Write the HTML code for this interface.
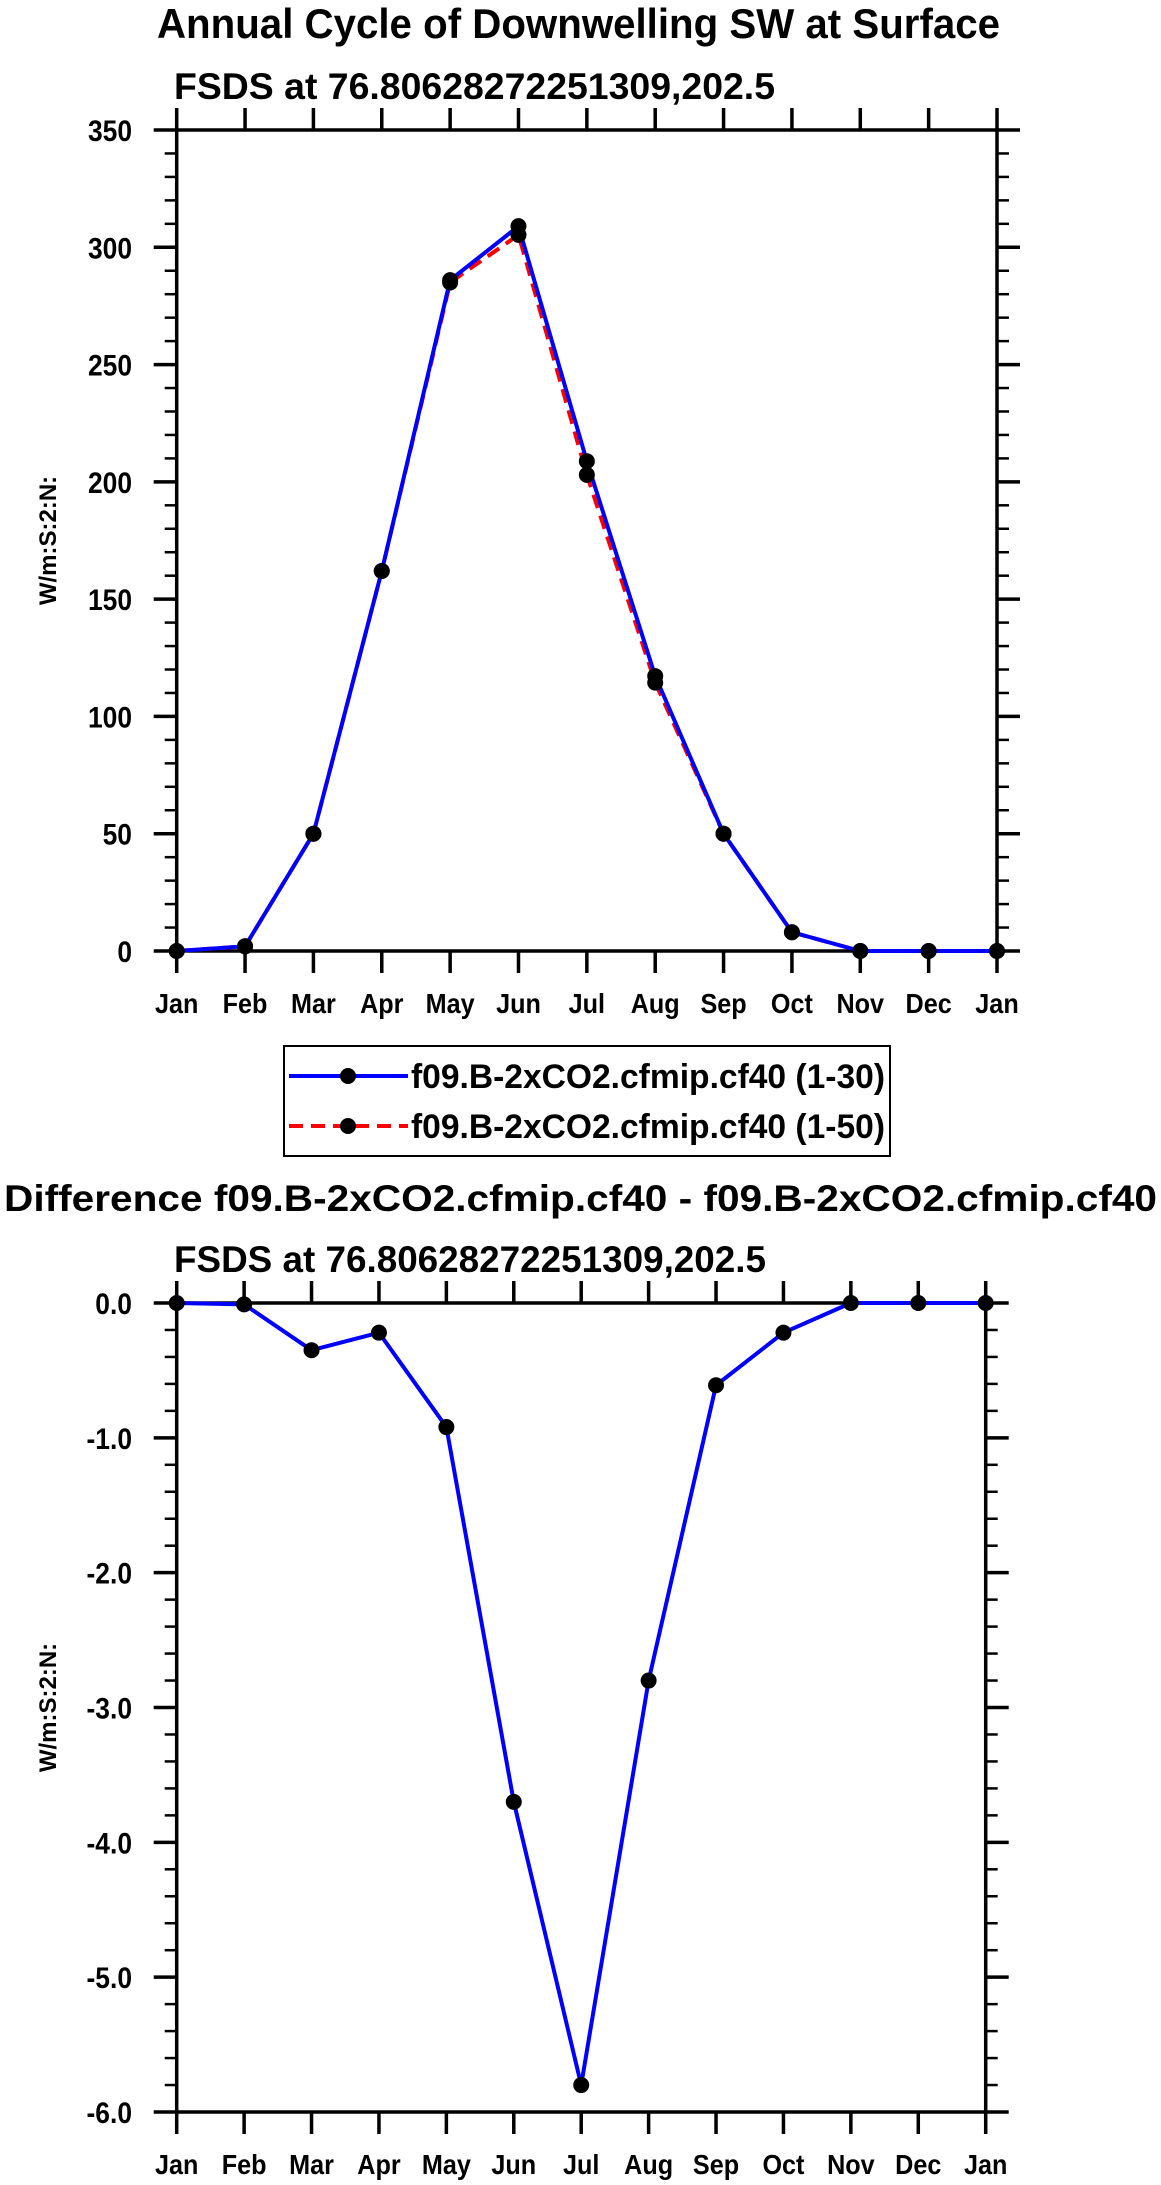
<!DOCTYPE html>
<html><head><meta charset="utf-8"><style>
html,body{margin:0;padding:0;background:#fff;}
svg{display:block;}
text{font-family:"Liberation Sans",Arial,sans-serif;font-weight:bold;fill:#000;}
</style></head><body>
<svg id="chart" width="1161" height="2185" viewBox="0 0 1161 2185" xmlns="http://www.w3.org/2000/svg">
<text x="157" y="38" font-size="42" textLength="843" lengthAdjust="spacingAndGlyphs">Annual Cycle of Downwelling SW at Surface</text>
<text x="174" y="99" font-size="37" textLength="601" lengthAdjust="spacingAndGlyphs">FSDS at 76.80628272251309,202.5</text>
<g id="top"></g>
<g>
<rect x="284" y="1046" width="606" height="110" fill="#fff" stroke="#000" stroke-width="2"/>
<line x1="289" y1="1076" x2="408" y2="1076" stroke="#0000ff" stroke-width="4"/>
<circle cx="348" cy="1076" r="8" fill="#000"/>
<text x="411" y="1088" font-size="34" textLength="474" lengthAdjust="spacingAndGlyphs">f09.B-2xCO2.cfmip.cf40 (1-30)</text>
<line x1="289" y1="1126" x2="408" y2="1126" stroke="#ff0000" stroke-width="4" stroke-dasharray="14,8"/>
<circle cx="348" cy="1126" r="8" fill="#000"/>
<text x="411" y="1138" font-size="34" textLength="474" lengthAdjust="spacingAndGlyphs">f09.B-2xCO2.cfmip.cf40 (1-50)</text>
</g>
<text x="4" y="1211" font-size="37" textLength="1153" lengthAdjust="spacingAndGlyphs">Difference f09.B-2xCO2.cfmip.cf40 - f09.B-2xCO2.cfmip.cf40</text>
<text x="174" y="1272" font-size="37" textLength="592" lengthAdjust="spacingAndGlyphs">FSDS at 76.80628272251309,202.5</text>
<g id="bot"></g>
</svg>
<script>
const months = ["Jan","Feb","Mar","Apr","May","Jun","Jul","Aug","Sep","Oct","Nov","Dec","Jan"];
const seriesA = [0, 2, 50, 162, 286, 309, 208.8, 117.2, 50, 8, 0, 0, 0];
const seriesB = [0, 2, 50, 162, 285, 305.3, 203, 114.4, 50, 8, 0, 0, 0];
const diffValues = [0, -0.01, -0.35, -0.22, -0.92, -3.7, -5.8, -2.8, -0.61, -0.22, 0, 0, 0];
const topTicks = [0, 50, 100, 150, 200, 250, 300, 350];
const topTickLabels = ["0","50","100","150","200","250","300","350"];
const botTicks = [0, -1, -2, -3, -4, -5, -6];
const botTickLabels = ["0.0","-1.0","-2.0","-3.0","-4.0","-5.0","-6.0"];
const NS = "http://www.w3.org/2000/svg";
function mk(tag, attrs, parent){const e=document.createElementNS(NS,tag);for(const k in attrs)e.setAttribute(k,attrs[k]);parent.appendChild(e);return e;}
function drawPlot(g, L, R, T, B, ymin, ymax, ticks, labels, minorStep, series, prefix){
  const xs = i => L + (R-L)*i/12;
  const ys = v => B - (v-ymin)/(ymax-ymin)*(B-T);
  for(let v=ymin; v<=ymax+1e-9; v+=minorStep){
    const y=ys(v);
    let t=mk('line',{x1:L-12,y1:y,x2:L,y2:y,stroke:'#000','stroke-width':2.5},g);
    
    
    t=mk('line',{x1:R,y1:y,x2:R+12,y2:y,stroke:'#000','stroke-width':2.5},g);
    
    
  }
  ticks.forEach((v,i)=>{
    const y=ys(v);
    let t=mk('line',{x1:L-23,y1:y,x2:L,y2:y,stroke:'#000','stroke-width':3.5},g);
    
    
    t=mk('line',{x1:R,y1:y,x2:R+23,y2:y,stroke:'#000','stroke-width':3.5},g);
    
    
    const tx=mk('text',{x:0,y:0,'font-size':30,'text-anchor':'end',transform:`translate(132,${y+11}) scale(0.88,1)`},g);
    tx.textContent=labels[i];
    
    
  });
  months.forEach((m,i)=>{
    const x=xs(i);
    let t=mk('line',{x1:x,y1:B,x2:x,y2:B+22,stroke:'#000','stroke-width':3.5},g);
    
    
    t=mk('line',{x1:x,y1:T-22,x2:x,y2:T,stroke:'#000','stroke-width':3.5},g);
    
    
    const tx=mk('text',{x:0,y:0,'font-size':28,'text-anchor':'middle',transform:`translate(${x},${B+62}) scale(0.9,1)`},g);
    tx.textContent=m;
    
    
  });
  const fr=mk('rect',{x:L,y:T,width:R-L,height:B-T,fill:'none',stroke:'#000','stroke-width':3.5},g);
  
  
  const yt=mk('text',{x:0,y:0,'font-size':24,'text-anchor':'middle',transform:`translate(56,${(T+B)/2}) rotate(-90)`},g);
  yt.textContent='W/m:S:2:N:';
  
  
  series.forEach(s=>{
    const pts=s.vals.map((v,i)=>xs(i)+','+ys(v)).join(' ');
    const pl=mk('polyline',{points:pts,fill:'none',stroke:s.color,'stroke-width':4,'stroke-linejoin':'round'},g);
    if(s.dash) pl.setAttribute('stroke-dasharray',s.dash);
    
    
  });
  series.forEach(s=>{
    s.vals.forEach((v,i)=>{
      const c=mk('circle',{cx:xs(i),cy:ys(v),r:8,fill:'#000'},g);
      
      
    });
  });
}
drawPlot(document.getElementById('top'),176.7,997,130,951,0,350,topTicks,topTickLabels,10,
  [{vals:seriesB,color:'#ff0000',dash:'14,8',name:'series-1-50'},{vals:seriesA,color:'#0000ff',name:'series-1-30'}],'top');
drawPlot(document.getElementById('bot'),176.7,985.7,1303,2112,-6,0,botTicks,botTickLabels,0.2,
  [{vals:diffValues,color:'#0000ff',name:'difference-series'}],'bottom');
</script>
</body></html>
